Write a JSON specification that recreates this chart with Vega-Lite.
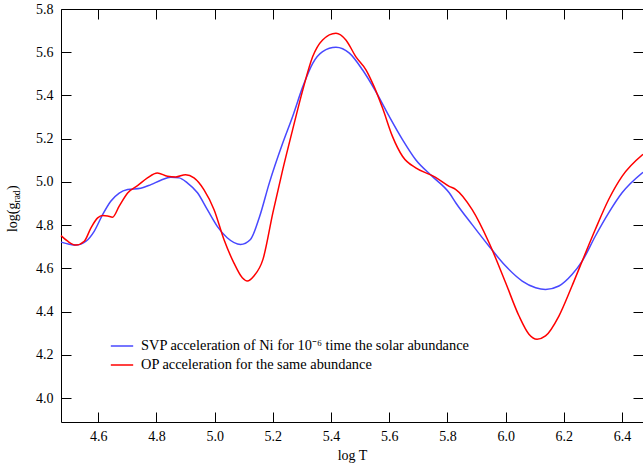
{
  "$schema": "https://vega.github.io/schema/vega-lite/v6.json",
  "width": 582,
  "height": 413,
  "autosize": {"type": "none"},
  "padding": {"left": 61, "top": 9, "right": 0, "bottom": 48},
  "background": "white",
  "config": {
    "view": {"stroke": null},
    "font": "Liberation Serif",
    "axis": {
      "domainColor": "black",
      "domainWidth": 1,
      "tickColor": "black",
      "tickWidth": 1,
      "tickSize": -10,
      "labelColor": "black",
      "labelFont": "Liberation Serif",
      "labelFontSize": 14,
      "titleFont": "Liberation Serif",
      "titleFontSize": 14,
      "titleFontWeight": "normal",
      "titleColor": "black",
      "grid": false
    },
    "legend": {"labelFont": "Liberation Serif"}
  },
  "datasets": {
    "curves": [
      {"series": "SVP  acceleration of Ni for 10⁻⁶ time the solar abundance", "logT": 4.472, "g": 4.722},
      {"series": "SVP  acceleration of Ni for 10⁻⁶ time the solar abundance", "logT": 4.500, "g": 4.712},
      {"series": "SVP  acceleration of Ni for 10⁻⁶ time the solar abundance", "logT": 4.523, "g": 4.708},
      {"series": "SVP  acceleration of Ni for 10⁻⁶ time the solar abundance", "logT": 4.558, "g": 4.726},
      {"series": "SVP  acceleration of Ni for 10⁻⁶ time the solar abundance", "logT": 4.586, "g": 4.772},
      {"series": "SVP  acceleration of Ni for 10⁻⁶ time the solar abundance", "logT": 4.615, "g": 4.849},
      {"series": "SVP  acceleration of Ni for 10⁻⁶ time the solar abundance", "logT": 4.643, "g": 4.911},
      {"series": "SVP  acceleration of Ni for 10⁻⁶ time the solar abundance", "logT": 4.672, "g": 4.949},
      {"series": "SVP  acceleration of Ni for 10⁻⁶ time the solar abundance", "logT": 4.701, "g": 4.965},
      {"series": "SVP  acceleration of Ni for 10⁻⁶ time the solar abundance", "logT": 4.746, "g": 4.971},
      {"series": "SVP  acceleration of Ni for 10⁻⁶ time the solar abundance", "logT": 4.781, "g": 4.988},
      {"series": "SVP  acceleration of Ni for 10⁻⁶ time the solar abundance", "logT": 4.815, "g": 5.008},
      {"series": "SVP  acceleration of Ni for 10⁻⁶ time the solar abundance", "logT": 4.849, "g": 5.022},
      {"series": "SVP  acceleration of Ni for 10⁻⁶ time the solar abundance", "logT": 4.878, "g": 5.019},
      {"series": "SVP  acceleration of Ni for 10⁻⁶ time the solar abundance", "logT": 4.906, "g": 4.996},
      {"series": "SVP  acceleration of Ni for 10⁻⁶ time the solar abundance", "logT": 4.941, "g": 4.950},
      {"series": "SVP  acceleration of Ni for 10⁻⁶ time the solar abundance", "logT": 4.975, "g": 4.872},
      {"series": "SVP  acceleration of Ni for 10⁻⁶ time the solar abundance", "logT": 5.009, "g": 4.795},
      {"series": "SVP  acceleration of Ni for 10⁻⁶ time the solar abundance", "logT": 5.043, "g": 4.742},
      {"series": "SVP  acceleration of Ni for 10⁻⁶ time the solar abundance", "logT": 5.089, "g": 4.711},
      {"series": "SVP  acceleration of Ni for 10⁻⁶ time the solar abundance", "logT": 5.123, "g": 4.734},
      {"series": "SVP  acceleration of Ni for 10⁻⁶ time the solar abundance", "logT": 5.154, "g": 4.838},
      {"series": "SVP  acceleration of Ni for 10⁻⁶ time the solar abundance", "logT": 5.188, "g": 4.996},
      {"series": "SVP  acceleration of Ni for 10⁻⁶ time the solar abundance", "logT": 5.234, "g": 5.180},
      {"series": "SVP  acceleration of Ni for 10⁻⁶ time the solar abundance", "logT": 5.268, "g": 5.303},
      {"series": "SVP  acceleration of Ni for 10⁻⁶ time the solar abundance", "logT": 5.303, "g": 5.441},
      {"series": "SVP  acceleration of Ni for 10⁻⁶ time the solar abundance", "logT": 5.337, "g": 5.549},
      {"series": "SVP  acceleration of Ni for 10⁻⁶ time the solar abundance", "logT": 5.371, "g": 5.603},
      {"series": "SVP  acceleration of Ni for 10⁻⁶ time the solar abundance", "logT": 5.417, "g": 5.623},
      {"series": "SVP  acceleration of Ni for 10⁻⁶ time the solar abundance", "logT": 5.463, "g": 5.596},
      {"series": "SVP  acceleration of Ni for 10⁻⁶ time the solar abundance", "logT": 5.508, "g": 5.519},
      {"series": "SVP  acceleration of Ni for 10⁻⁶ time the solar abundance", "logT": 5.554, "g": 5.418},
      {"series": "SVP  acceleration of Ni for 10⁻⁶ time the solar abundance", "logT": 5.600, "g": 5.303},
      {"series": "SVP  acceleration of Ni for 10⁻⁶ time the solar abundance", "logT": 5.646, "g": 5.195},
      {"series": "SVP  acceleration of Ni for 10⁻⁶ time the solar abundance", "logT": 5.691, "g": 5.103},
      {"series": "SVP  acceleration of Ni for 10⁻⁶ time the solar abundance", "logT": 5.748, "g": 5.026},
      {"series": "SVP  acceleration of Ni for 10⁻⁶ time the solar abundance", "logT": 5.806, "g": 4.950},
      {"series": "SVP  acceleration of Ni for 10⁻⁶ time the solar abundance", "logT": 5.829, "g": 4.903},
      {"series": "SVP  acceleration of Ni for 10⁻⁶ time the solar abundance", "logT": 5.885, "g": 4.803},
      {"series": "SVP  acceleration of Ni for 10⁻⁶ time the solar abundance", "logT": 5.943, "g": 4.703},
      {"series": "SVP  acceleration of Ni for 10⁻⁶ time the solar abundance", "logT": 6.000, "g": 4.611},
      {"series": "SVP  acceleration of Ni for 10⁻⁶ time the solar abundance", "logT": 6.057, "g": 4.542},
      {"series": "SVP  acceleration of Ni for 10⁻⁶ time the solar abundance", "logT": 6.103, "g": 4.511},
      {"series": "SVP  acceleration of Ni for 10⁻⁶ time the solar abundance", "logT": 6.137, "g": 4.503},
      {"series": "SVP  acceleration of Ni for 10⁻⁶ time the solar abundance", "logT": 6.183, "g": 4.519},
      {"series": "SVP  acceleration of Ni for 10⁻⁶ time the solar abundance", "logT": 6.228, "g": 4.572},
      {"series": "SVP  acceleration of Ni for 10⁻⁶ time the solar abundance", "logT": 6.263, "g": 4.634},
      {"series": "SVP  acceleration of Ni for 10⁻⁶ time the solar abundance", "logT": 6.308, "g": 4.749},
      {"series": "SVP  acceleration of Ni for 10⁻⁶ time the solar abundance", "logT": 6.354, "g": 4.857},
      {"series": "SVP  acceleration of Ni for 10⁻⁶ time the solar abundance", "logT": 6.400, "g": 4.950},
      {"series": "SVP  acceleration of Ni for 10⁻⁶ time the solar abundance", "logT": 6.472, "g": 5.045},
      {"series": "OP acceleration for the same abundance", "logT": 4.472, "g": 4.752},
      {"series": "OP acceleration for the same abundance", "logT": 4.495, "g": 4.726},
      {"series": "OP acceleration for the same abundance", "logT": 4.523, "g": 4.708},
      {"series": "OP acceleration for the same abundance", "logT": 4.552, "g": 4.726},
      {"series": "OP acceleration for the same abundance", "logT": 4.575, "g": 4.788},
      {"series": "OP acceleration for the same abundance", "logT": 4.598, "g": 4.834},
      {"series": "OP acceleration for the same abundance", "logT": 4.615, "g": 4.845},
      {"series": "OP acceleration for the same abundance", "logT": 4.632, "g": 4.843},
      {"series": "OP acceleration for the same abundance", "logT": 4.649, "g": 4.837},
      {"series": "OP acceleration for the same abundance", "logT": 4.672, "g": 4.888},
      {"series": "OP acceleration for the same abundance", "logT": 4.701, "g": 4.949},
      {"series": "OP acceleration for the same abundance", "logT": 4.735, "g": 4.983},
      {"series": "OP acceleration for the same abundance", "logT": 4.769, "g": 5.019},
      {"series": "OP acceleration for the same abundance", "logT": 4.803, "g": 5.042},
      {"series": "OP acceleration for the same abundance", "logT": 4.838, "g": 5.026},
      {"series": "OP acceleration for the same abundance", "logT": 4.866, "g": 5.023},
      {"series": "OP acceleration for the same abundance", "logT": 4.900, "g": 5.034},
      {"series": "OP acceleration for the same abundance", "logT": 4.929, "g": 5.019},
      {"series": "OP acceleration for the same abundance", "logT": 4.963, "g": 4.965},
      {"series": "OP acceleration for the same abundance", "logT": 4.998, "g": 4.872},
      {"series": "OP acceleration for the same abundance", "logT": 5.032, "g": 4.734},
      {"series": "OP acceleration for the same abundance", "logT": 5.066, "g": 4.626},
      {"series": "OP acceleration for the same abundance", "logT": 5.095, "g": 4.557},
      {"series": "OP acceleration for the same abundance", "logT": 5.112, "g": 4.542},
      {"series": "OP acceleration for the same abundance", "logT": 5.135, "g": 4.565},
      {"series": "OP acceleration for the same abundance", "logT": 5.166, "g": 4.642},
      {"series": "OP acceleration for the same abundance", "logT": 5.200, "g": 4.857},
      {"series": "OP acceleration for the same abundance", "logT": 5.234, "g": 5.057},
      {"series": "OP acceleration for the same abundance", "logT": 5.268, "g": 5.242},
      {"series": "OP acceleration for the same abundance", "logT": 5.303, "g": 5.426},
      {"series": "OP acceleration for the same abundance", "logT": 5.337, "g": 5.580},
      {"series": "OP acceleration for the same abundance", "logT": 5.371, "g": 5.657},
      {"series": "OP acceleration for the same abundance", "logT": 5.417, "g": 5.688},
      {"series": "OP acceleration for the same abundance", "logT": 5.451, "g": 5.657},
      {"series": "OP acceleration for the same abundance", "logT": 5.485, "g": 5.580},
      {"series": "OP acceleration for the same abundance", "logT": 5.520, "g": 5.519},
      {"series": "OP acceleration for the same abundance", "logT": 5.548, "g": 5.441},
      {"series": "OP acceleration for the same abundance", "logT": 5.577, "g": 5.342},
      {"series": "OP acceleration for the same abundance", "logT": 5.611, "g": 5.211},
      {"series": "OP acceleration for the same abundance", "logT": 5.646, "g": 5.118},
      {"series": "OP acceleration for the same abundance", "logT": 5.691, "g": 5.065},
      {"series": "OP acceleration for the same abundance", "logT": 5.748, "g": 5.029},
      {"series": "OP acceleration for the same abundance", "logT": 5.771, "g": 5.011},
      {"series": "OP acceleration for the same abundance", "logT": 5.806, "g": 4.980},
      {"series": "OP acceleration for the same abundance", "logT": 5.829, "g": 4.965},
      {"series": "OP acceleration for the same abundance", "logT": 5.885, "g": 4.872},
      {"series": "OP acceleration for the same abundance", "logT": 5.943, "g": 4.719},
      {"series": "OP acceleration for the same abundance", "logT": 6.000, "g": 4.534},
      {"series": "OP acceleration for the same abundance", "logT": 6.046, "g": 4.380},
      {"series": "OP acceleration for the same abundance", "logT": 6.080, "g": 4.296},
      {"series": "OP acceleration for the same abundance", "logT": 6.108, "g": 4.273},
      {"series": "OP acceleration for the same abundance", "logT": 6.137, "g": 4.288},
      {"series": "OP acceleration for the same abundance", "logT": 6.183, "g": 4.380},
      {"series": "OP acceleration for the same abundance", "logT": 6.228, "g": 4.519},
      {"series": "OP acceleration for the same abundance", "logT": 6.263, "g": 4.634},
      {"series": "OP acceleration for the same abundance", "logT": 6.308, "g": 4.780},
      {"series": "OP acceleration for the same abundance", "logT": 6.354, "g": 4.919},
      {"series": "OP acceleration for the same abundance", "logT": 6.400, "g": 5.026},
      {"series": "OP acceleration for the same abundance", "logT": 6.472, "g": 5.128}
    ]
  },
  "layer": [
    {
      "data": {"name": "curves"},
      "mark": {"type": "line", "interpolate": "monotone", "strokeWidth": 1.5},
      "encoding": {
        "x": {
          "field": "logT", "type": "quantitative",
          "scale": {"domain": [4.472, 6.472], "nice": false, "zero": false},
          "axis": {"orient": "bottom", "title": "log T", "format": ".1f", "values": [4.6, 4.8, 5.0, 5.2, 5.4, 5.6, 5.8, 6.0, 6.2, 6.4], "labelPadding": 17, "titlePadding": 5, "labelFont": "Liberation Serif", "labelFontSize": 14}
        },
        "y": {
          "field": "g", "type": "quantitative",
          "scale": {"domain": [3.89, 5.8], "nice": false, "zero": false},
          "axis": {"orient": "left", "title": null, "format": ".1f", "values": [4.0, 4.2, 4.4, 4.6, 4.8, 5.0, 5.2, 5.4, 5.6, 5.8], "labelPadding": 18, "labelFont": "Liberation Serif", "labelFontSize": 14}
        },
        "color": {
          "field": "series", "type": "nominal",
          "scale": {
            "domain": ["SVP  acceleration of Ni for 10⁻⁶ time the solar abundance", "OP acceleration for the same abundance"],
            "range": ["#4848ff", "#ff0000"]
          },
          "legend": {
            "title": null, "orient": "none", "legendX": 49, "legendY": 325,
            "symbolType": "stroke", "symbolSize": 500, "symbolStrokeWidth": 1.5,
            "labelFont": "Liberation Serif", "labelFontSize": 14.4, "labelColor": "black",
            "labelLimit": 600, "labelOffset": 7, "rowPadding": -3.5, "padding": 0
          }
        }
      }
    },
    {
      "data": {"name": "curves"},
      "mark": {"type": "line", "strokeOpacity": 0},
      "encoding": {
        "x": {"field": "logT", "type": "quantitative", "axis": {"orient": "top", "labels": false, "title": null, "values": [4.6, 4.8, 5.0, 5.2, 5.4, 5.6, 5.8, 6.0, 6.2, 6.4]}},
        "y": {"field": "g", "type": "quantitative", "axis": {"orient": "right", "labels": false, "title": null, "values": [4.0, 4.2, 4.4, 4.6, 4.8, 5.0, 5.2, 5.4, 5.6, 5.8]}},
        "detail": {"field": "series"}
      }
    },
    {
      "data": {"values": [{"label": "log(g"}]},
      "mark": {"type": "text", "angle": 270, "align": "right", "baseline": "alphabetic", "fontSize": 14, "font": "Liberation Serif", "color": "black"},
      "encoding": {
        "x": {"datum": 4.321, "type": "quantitative", "axis": null},
        "y": {"datum": 4.905, "type": "quantitative", "axis": null},
        "text": {"field": "label"}
      }
    },
    {
      "data": {"values": [{"label": "rad"}]},
      "mark": {"type": "text", "angle": 270, "align": "left", "baseline": "alphabetic", "fontSize": 9.5, "dy": 3, "font": "Liberation Serif", "color": "black"},
      "encoding": {
        "x": {"datum": 4.321, "type": "quantitative", "axis": null},
        "y": {"datum": 4.905, "type": "quantitative", "axis": null},
        "text": {"field": "label"}
      }
    },
    {
      "data": {"values": [{"label": ")"}]},
      "mark": {"type": "text", "angle": 270, "align": "left", "baseline": "alphabetic", "fontSize": 14, "dx": 12.5, "font": "Liberation Serif", "color": "black"},
      "encoding": {
        "x": {"datum": 4.321, "type": "quantitative", "axis": null},
        "y": {"datum": 4.905, "type": "quantitative", "axis": null},
        "text": {"field": "label"}
      }
    }
  ],
  "resolve": {"axis": {"x": "independent", "y": "independent"}}
}
